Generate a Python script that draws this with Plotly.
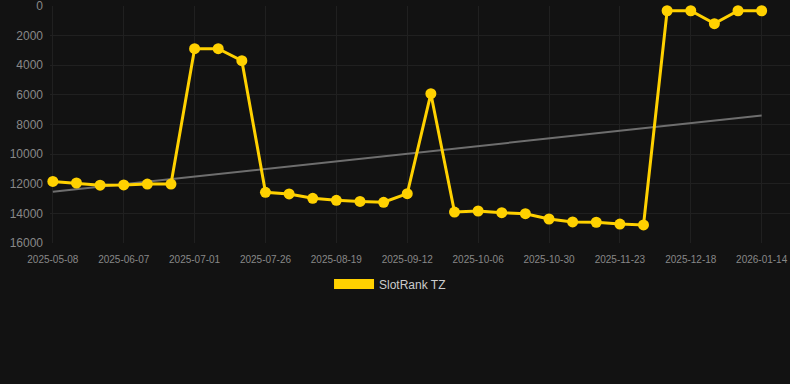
import numpy as np
import plotly.graph_objects as go

dates = ["2025-05-08", "2025-05-18", "2025-05-28", "2025-06-07", "2025-06-15", "2025-06-23",
         "2025-07-01", "2025-07-09", "2025-07-17", "2025-07-26", "2025-08-03", "2025-08-11",
         "2025-08-19", "2025-08-27", "2025-09-04", "2025-09-12", "2025-09-20", "2025-09-28",
         "2025-10-06", "2025-10-14", "2025-10-22", "2025-10-30", "2025-11-07", "2025-11-15",
         "2025-11-23", "2025-12-01", "2025-12-09", "2025-12-18", "2025-12-27", "2026-01-05",
         "2026-01-14"]
rank = [11840, 11950, 12100, 12080, 12020, 12020,
        2880, 2880, 3690, 12580, 12690, 12980,
        13120, 13190, 13250, 12670, 5920, 13910,
        13840, 13950, 14020, 14380, 14580, 14600,
        14720, 14780, 320, 320, 1190, 320,
        320]
tick_labels = dates[::3]
y_ticks = [0, 2000, 4000, 6000, 8000, 10000, 12000, 14000, 16000]
y_tick_text = [str(v) for v in y_ticks]

idx = np.arange(len(rank))
slope, intercept = np.polyfit(idx, rank, 1)
trend = [intercept, intercept + slope * idx[-1]]

fig = go.Figure()
fig.add_trace(go.Scatter(
    x=[dates[0], dates[-1]], y=trend, mode="lines",
    line=dict(color="#6e6e6e", width=2), showlegend=False, hoverinfo="skip"))
fig.add_trace(go.Scatter(
    x=dates, y=rank, mode="lines+markers",
    line=dict(color="#FFD100", width=3),
    marker=dict(color="#FFD100", size=11),
    cliponaxis=False, showlegend=False, name="SlotRank TZ"))
fig.add_trace(go.Scatter(
    x=[None], y=[None], mode="lines",
    line=dict(color="#FFD100", width=11), name="SlotRank TZ", showlegend=True))

fig.update_layout(
    width=790, height=384,
    paper_bgcolor="#121212", plot_bgcolor="#121212",
    margin=dict(l=50, r=0, t=6, b=141),
    font=dict(family="Liberation Sans, Arial, sans-serif", color="#888888"),
    legend=dict(orientation="h", x=0.4595, xanchor="center", y=-0.173, yanchor="middle",
                font=dict(size=12, color="#cccccc"), itemwidth=40,
                bgcolor="rgba(0,0,0,0)"),
    xaxis=dict(type="category", categoryorder="array", categoryarray=dates,
               range=[-0.12, 31.2], tickmode="array", tickvals=tick_labels,
               ticktext=tick_labels, tickfont=dict(size=10, color="#888888"),
               showgrid=True, gridcolor="#202020", gridwidth=1, zeroline=False,
               showline=False, ticks="", tickangle=0, ticklabelstandoff=9),
    yaxis=dict(range=[16000, -0.5], tickmode="array", tickvals=y_ticks,
               ticktext=y_tick_text, ticklabeloverflow="allow",
               tickfont=dict(size=12, color="#888888"), showgrid=True,
               gridcolor="#202020", gridwidth=1, zeroline=False, showline=False,
               ticks="", ticklabelstandoff=6),
)
fig.write_html("out.html", config={"displayModeBar": False},
               post_script="document.body.style.margin='0';document.body.style.background='#121212';")
